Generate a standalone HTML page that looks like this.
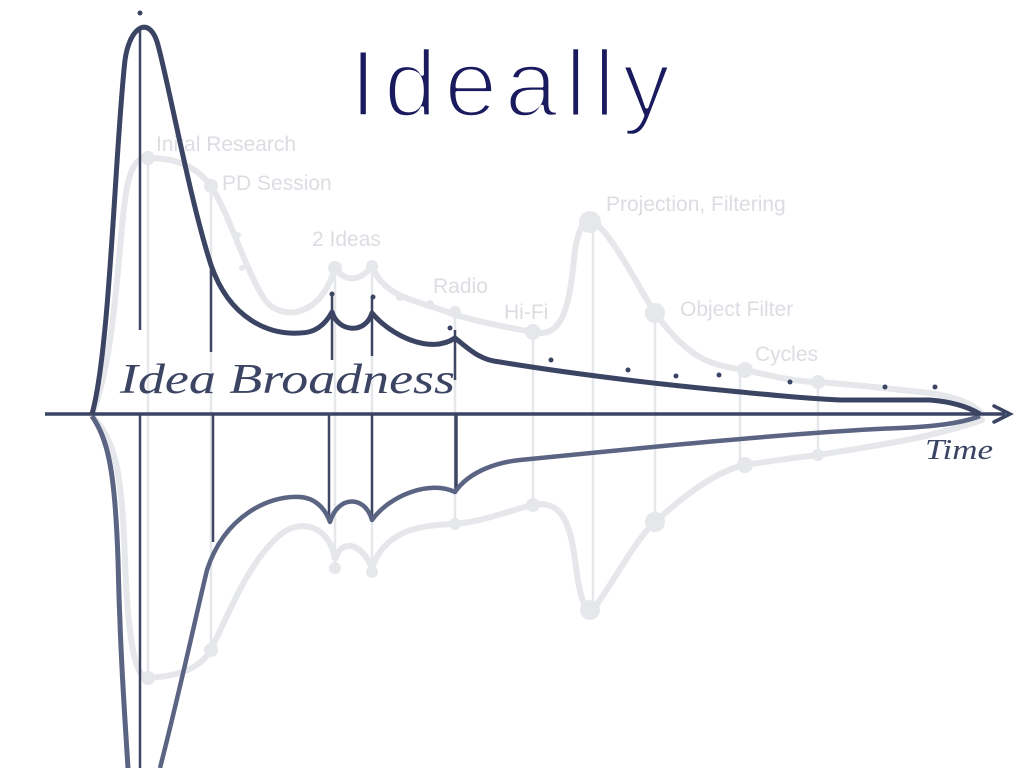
<!DOCTYPE html>
<html><head><meta charset="utf-8"><style>html,body{margin:0;padding:0;background:#fff}svg{display:block}</style></head>
<body>
<svg width="1024" height="768" viewBox="0 0 1024 768" xmlns="http://www.w3.org/2000/svg">
<rect width="1024" height="768" fill="#fff"/>
<g stroke="#e6e7eb" stroke-width="2.5">
<line x1="148" y1="160" x2="148" y2="678"/>
<line x1="211" y1="186" x2="211" y2="650"/>
<line x1="335" y1="268" x2="335" y2="568"/>
<line x1="372" y1="266" x2="372" y2="572"/>
<line x1="455" y1="310" x2="455" y2="524"/>
<line x1="533" y1="330" x2="533" y2="505"/>
<line x1="593" y1="222" x2="593" y2="610"/>
<line x1="655" y1="313" x2="655" y2="522"/>
<line x1="740" y1="370" x2="740" y2="465"/>
<line x1="818" y1="382" x2="818" y2="455"/>
</g>
<g fill="none" stroke="#e6e7eb" stroke-width="6" stroke-linecap="round">
<path d="M92,414 C115,360 118,250 125,200 C130,160 140,158 148,158 C175,158 195,165 211,186 C230,215 245,270 265,300 C280,320 320,320 335,268 C345,282 360,282 372,266 C385,300 420,300 455,315 C480,322 510,328 533,332 C565,340 570,300 575,250 C580,220 590,215 593,222 C610,230 640,290 655,313 C690,360 710,365 745,370 C780,378 800,382 818,382 C870,386 900,390 930,393 C960,398 975,405 982,414"/>
<path d="M92,416 C115,440 122,470 125,560 C128,640 135,678 148,678 C180,676 200,668 211,650 C230,610 250,560 280,535 C300,518 330,525 335,560 C340,540 360,540 372,568 C385,530 420,525 455,524 C490,520 510,510 533,505 C560,500 570,520 575,560 C580,600 585,612 593,610 C615,580 635,540 655,522 C690,490 720,470 745,465 C790,458 810,456 818,455 C880,445 930,438 982,420"/>
</g>
<g fill="#e6e7eb">
<circle cx="148" cy="158" r="7"/><circle cx="211" cy="186" r="7"/><circle cx="335" cy="268" r="7"/><circle cx="372" cy="266" r="6"/>
<circle cx="455" cy="312" r="6"/><circle cx="533" cy="332" r="8"/><circle cx="590" cy="222" r="11"/><circle cx="655" cy="313" r="10"/>
<circle cx="745" cy="370" r="8"/><circle cx="818" cy="382" r="7"/><circle cx="238" cy="235" r="3"/><circle cx="242" cy="268" r="3"/><circle cx="400" cy="297" r="4"/><circle cx="430" cy="304" r="4"/>
<circle cx="148" cy="678" r="7"/><circle cx="211" cy="650" r="7"/><circle cx="335" cy="568" r="6"/><circle cx="372" cy="572" r="6"/>
<circle cx="455" cy="524" r="6"/><circle cx="533" cy="505" r="7"/><circle cx="590" cy="610" r="10"/><circle cx="655" cy="522" r="10"/><circle cx="745" cy="465" r="8"/><circle cx="818" cy="455" r="6"/>
</g>
<g font-family="Liberation Sans, sans-serif" font-size="21" fill="#dcdde2">
<text x="156" y="151">Inital Research</text>
<text x="222" y="190">PD Session</text>
<text x="312" y="246">2 Ideas</text>
<text x="433" y="293">Radio</text>
<text x="504" y="319">Hi-Fi</text>
<text x="606" y="211">Projection, Filtering</text>
<text x="680" y="316">Object Filter</text>
<text x="755" y="361">Cycles</text>
</g>
<g stroke="#3e4663" stroke-width="2.5">
<line x1="140" y1="28" x2="140" y2="330"/>
<line x1="140" y1="414" x2="140" y2="768"/>
<line x1="211" y1="265" x2="211" y2="352"/>
<line x1="213" y1="414" x2="213" y2="542"/>
<line x1="332" y1="295" x2="332" y2="360"/>
<line x1="329" y1="414" x2="329" y2="522"/>
<line x1="372" y1="297" x2="372" y2="356"/>
<line x1="372" y1="414" x2="372" y2="520"/>
<line x1="455" y1="330" x2="455" y2="380"/>
<line x1="456" y1="414" x2="456" y2="492" stroke-width="3.5"/>
</g>
<path d="M92,414 C110,350 115,150 125,60 C130,25 150,15 158,45 C170,90 190,200 211,265 C230,320 270,335 300,333 C315,333 325,325 332,312 C338,332 365,335 372,313 C390,335 430,355 455,338 C470,350 480,360 500,362 C560,372 640,382 700,388 C760,394 800,398 840,400 L930,400 C955,402 970,408 980,414" fill="none" stroke="#3b4463" stroke-width="5" stroke-linejoin="round"/>
<path d="M92,416 C108,440 115,470 118,560 C120,650 125,720 128,768" fill="none" stroke="#5b6482" stroke-width="5"/>
<path d="M160,768 C180,690 195,620 207,570 C225,515 270,495 300,497 C315,498 325,508 330,522 C338,495 365,495 372,520 C390,495 430,480 455,492 C470,470 500,462 520,460 C640,448 800,432 900,428 C950,426 970,420 980,416" fill="none" stroke="#5b6482" stroke-width="4.5" stroke-linejoin="round"/>
<g fill="#3b4463">
<circle cx="140" cy="13" r="2.5"/><circle cx="332" cy="294" r="2.5"/><circle cx="373" cy="297" r="2.5"/><circle cx="450" cy="328" r="2.5"/>
<circle cx="551" cy="360" r="2.5"/><circle cx="628" cy="370" r="2.5"/><circle cx="676" cy="376" r="2.5"/><circle cx="719" cy="375" r="2.5"/><circle cx="790" cy="382" r="2.5"/><circle cx="885" cy="387" r="2.5"/><circle cx="935" cy="387" r="2.5"/>
</g>
<line x1="45" y1="414" x2="1005" y2="414" stroke="#3b4463" stroke-width="3.5"/>
<path d="M994,406 L1010,414 L994,422" fill="none" stroke="#3b4463" stroke-width="3.5" stroke-linecap="round"/>
<text x="350" y="116" font-family="Liberation Sans, sans-serif" font-size="95" fill="#1a1a5e" stroke="#fff" stroke-width="3.5" stroke-linejoin="round" textLength="320" lengthAdjust="spacing">Ideally</text>
<text x="120" y="393" font-family="Liberation Serif, serif" font-style="italic" font-size="42" fill="#3b4463" textLength="335" lengthAdjust="spacingAndGlyphs">Idea Broadness</text>
<text x="925" y="459" font-family="Liberation Serif, serif" font-style="italic" font-size="28" fill="#3b4463" textLength="68" lengthAdjust="spacingAndGlyphs">Time</text>
</svg>
</body></html>
